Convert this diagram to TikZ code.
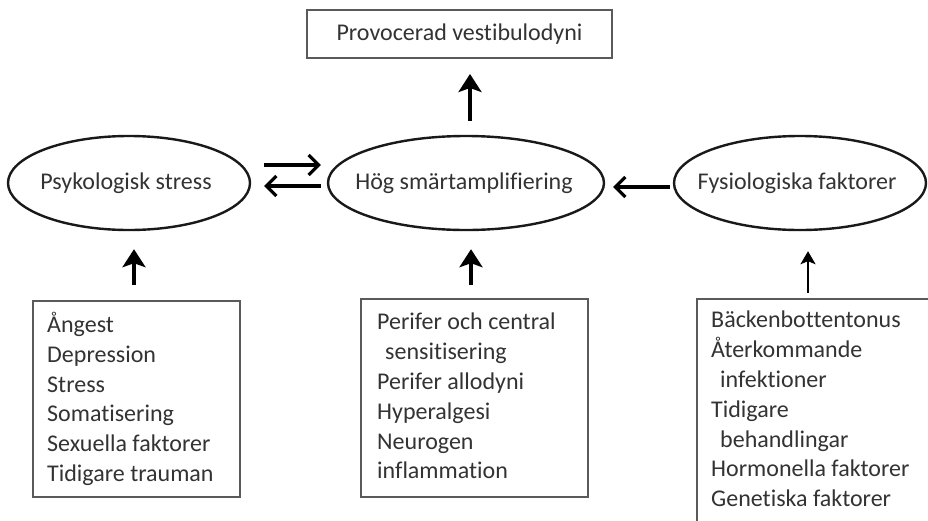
\documentclass[tikz,border=0pt]{standalone}
\usepackage{fontspec}
\setmainfont{Carlito}[Ligatures=NoCommon]
\usetikzlibrary{arrows.meta,calc,shapes.geometric}
\definecolor{txt}{HTML}{333333}
\definecolor{boxc}{HTML}{5A5A5A}
\begin{document}
\begin{tikzpicture}[x=1pt,y=-1pt,
  every node/.style={font=\fontsize{24}{29.8}\selectfont, text=txt},
  rectbox/.style={draw=boxc, line width=2pt, inner sep=0pt},
  ellnode/.style={draw=black!90, line width=2.4pt, ellipse, inner sep=0pt, minimum height=94pt},
  listtext/.style={align=left, anchor=north west, inner sep=0pt},
  varr/.style={line width=3.8pt, -{Stealth[length=18pt,width=23pt,inset=4pt]}},
  harr/.style={line width=3.4pt, -{Straight Barb[length=10pt,width=20pt,line width=3.2pt]}},
  thinarr/.style={line width=2.2pt, -{Stealth[length=13pt,width=15pt,inset=3pt]}}
]
\useasboundingbox (0,0) rectangle (928,520);
\fill[white] (0,0) rectangle (928,520);

\node[rectbox, minimum width=305pt, minimum height=48pt] (top) at (459.5,34) {Provocerad vestibulodyni};

\node[ellnode, minimum width=242pt] (psy) at (129,183) {};
\node[ellnode, minimum width=276pt] (mid) at (466,183) {};
\node[ellnode, minimum width=252pt] (fys) at (800,183) {};
\node (psyl) at (126,183) {Psykologisk stress};
\node (midl) at (464,183) {Hög smärtamplifiering};
\node (fysl) at (797,183) {Fysiologiska faktorer};

\node[rectbox, minimum width=207pt, minimum height=196pt, anchor=north west] (lbox) at (32,300) {};
\node[rectbox, minimum width=227pt, minimum height=198pt, anchor=north west] (mbox) at (360,298) {};
\node[rectbox, minimum width=240pt, minimum height=235pt, anchor=north west] (rbox) at (696,298) {};

\node[listtext] (ltext) at (47,312) {Ångest\\Depression\\Stress\\Somatisering\\Sexuella faktorer\\Tidigare trauman};
\node[listtext] (mtext) at (377,313) {Perifer och central\\\hspace{8pt}sensitisering\\Perifer allodyni\\Hyperalgesi\\Neurogen\\inflammation};
\node[listtext] (rtext) at (711,311) {Bäckenbottentonus\\Återkommande\\\hspace{9pt}infektioner\\Tidigare\\\hspace{9pt}behandlingar\\Hormonella faktorer\\Genetiska faktorer};

\coordinate (rtail) at ($(rbox.north west)+(112,0)$);

\draw[varr, shorten <=14pt, shorten >=15pt] ([xshift=4pt]mid.north) -- ([xshift=4pt]mid.north |- top.south);
\draw[harr, shorten <=13pt, shorten >=6pt] ([yshift=18pt]psy.east) -- ([yshift=18pt]mid.west);
\draw[harr, shorten <=6pt, shorten >=13pt] ([yshift=-3pt]mid.west) -- ([yshift=-3pt]psy.east);
\draw[harr, shorten <=3pt, shorten >=8pt] ([yshift=-4pt]fys.west) -- ([yshift=-4pt]mid.east);
\draw[varr, shorten <=15pt, shorten >=18pt] ([xshift=-2.5pt]lbox.north) -- ([xshift=-2.5pt]lbox.north |- psy.south);
\draw[varr, shorten <=13pt, shorten >=18pt] ([xshift=-3.5pt]mbox.north) -- ([xshift=-3.5pt]mbox.north |- mid.south);
\draw[thinarr, shorten <=5pt, shorten >=20pt] (rtail) -- (rtail |- fys.south);
\end{tikzpicture}
\end{document}
